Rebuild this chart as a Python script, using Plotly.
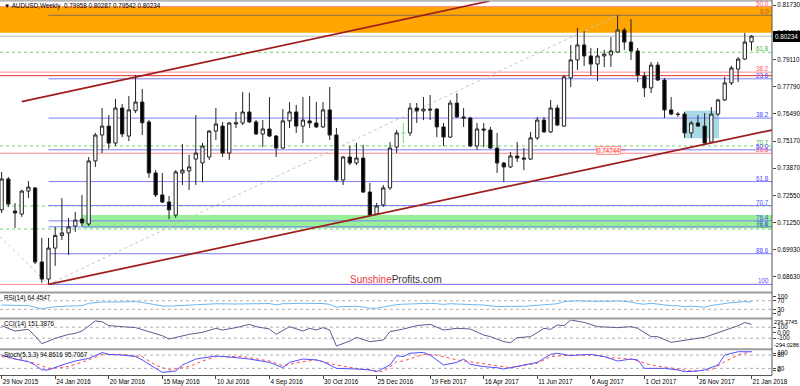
import plotly.graph_objects as go

# ---------------- data ----------------
tick_bars = [0, 8, 16, 24, 32, 40, 48, 56, 64, 72, 80, 88, 96, 104, 112]
tick_labels = ["29 Nov 2015", "24 Jan 2016", "20 Mar 2016", "15 May 2016", "10 Jul 2016",
               "4 Sep 2016", "30 Oct 2016", "25 Dec 2016", "19 Feb 2017", "16 Apr 2017",
               "11 Jun 2017", "6 Aug 2017", "1 Oct 2017", "26 Nov 2017", "21 Jan 2018"]

opens = [0.7186, 0.7335, 0.7181, 0.7166, 0.7277, 0.7292, 0.6935, 0.6853, 0.7002, 0.7063,
         0.7075, 0.7108, 0.7142, 0.7118, 0.7422, 0.7547, 0.7590, 0.7508, 0.7677, 0.7542,
         0.7664, 0.7706, 0.7610, 0.7364, 0.7258, 0.7224, 0.7161, 0.7364, 0.7374, 0.7431,
         0.7412, 0.7441, 0.7566, 0.7590, 0.7460, 0.7600, 0.7605, 0.7658, 0.7610, 0.7552,
         0.7576, 0.7542, 0.7484, 0.7615, 0.7658, 0.7590, 0.7615, 0.7605, 0.7586, 0.7668,
         0.7547, 0.7330, 0.7441, 0.7412, 0.7436, 0.7272, 0.7166, 0.7210, 0.7292, 0.7489,
         0.7557, 0.7557, 0.7677, 0.7663, 0.7672, 0.7672, 0.7586, 0.7537, 0.7701, 0.7634,
         0.7629, 0.7494, 0.7576, 0.7571, 0.7484, 0.7412, 0.7393, 0.7446, 0.7436, 0.7431,
         0.7533, 0.7619, 0.7562, 0.7677, 0.7590, 0.7822, 0.7909, 0.7981, 0.7928, 0.7889,
         0.7928, 0.7933, 0.7947, 0.8053, 0.7995, 0.7952, 0.7831, 0.7774, 0.7884, 0.7812,
         0.7668, 0.7648, 0.7648, 0.7557, 0.7605, 0.7590, 0.7513, 0.7648, 0.7716, 0.7798,
         0.7865, 0.7913, 0.79958]
highs = [0.7369, 0.7345, 0.7219, 0.7282, 0.7325, 0.7296, 0.7051, 0.7051, 0.7104, 0.7243,
         0.7147, 0.7176, 0.7258, 0.7441, 0.7557, 0.7677, 0.7643, 0.7721, 0.7696, 0.7735,
         0.7836, 0.7769, 0.7619, 0.7378, 0.7364, 0.7253, 0.7378, 0.7504, 0.7451, 0.7643,
         0.7508, 0.7571, 0.7677, 0.7610, 0.7610, 0.7658, 0.7754, 0.7751, 0.7619, 0.7619,
         0.7730, 0.7547, 0.7672, 0.7706, 0.7692, 0.7730, 0.7735, 0.7706, 0.7706, 0.7778,
         0.7581, 0.7446, 0.7494, 0.7508, 0.7499, 0.7316, 0.7219, 0.7306, 0.7513, 0.7571,
         0.7605, 0.7701, 0.7701, 0.7730, 0.7740, 0.7677, 0.7605, 0.7716, 0.7749, 0.7677,
         0.7634, 0.7605, 0.7605, 0.7586, 0.7557, 0.7417, 0.7465, 0.7513, 0.7484, 0.7562,
         0.7634, 0.7634, 0.7716, 0.7692, 0.7836, 0.7981, 0.8063, 0.8048, 0.7966, 0.7966,
         0.7957, 0.8019, 0.8124, 0.8063, 0.8106, 0.7966, 0.7851, 0.7899, 0.7899, 0.7822,
         0.7730, 0.7658, 0.7658, 0.7615, 0.7643, 0.7653, 0.7682, 0.7721, 0.7827, 0.7880,
         0.7923, 0.8039, 0.80287]
lows = [0.7171, 0.7200, 0.7099, 0.7152, 0.7243, 0.6925, 0.6834, 0.6827, 0.6916, 0.7041,
        0.6969, 0.7080, 0.7108, 0.7108, 0.7393, 0.7460, 0.7480, 0.7494, 0.7537, 0.7518,
        0.7653, 0.7547, 0.7340, 0.7248, 0.7219, 0.7142, 0.7147, 0.7306, 0.7282, 0.7306,
        0.7320, 0.7427, 0.7523, 0.7441, 0.7427, 0.7581, 0.7595, 0.7605, 0.7547, 0.7489,
        0.7537, 0.7441, 0.7480, 0.7581, 0.7557, 0.7508, 0.7581, 0.7581, 0.7581, 0.7523,
        0.7320, 0.7306, 0.7402, 0.7402, 0.7267, 0.7157, 0.7161, 0.7200, 0.7282, 0.7460,
        0.7508, 0.7542, 0.7605, 0.7619, 0.7619, 0.7537, 0.7494, 0.7533, 0.7629, 0.7586,
        0.7489, 0.7475, 0.7489, 0.7480, 0.7364, 0.7320, 0.7388, 0.7417, 0.7378, 0.7427,
        0.7523, 0.7557, 0.7557, 0.7590, 0.7586, 0.7778, 0.7860, 0.7880, 0.7836, 0.7807,
        0.7875, 0.7875, 0.7942, 0.7957, 0.7909, 0.7802, 0.7730, 0.7749, 0.7807, 0.7629,
        0.7643, 0.7634, 0.7533, 0.7533, 0.7586, 0.7504, 0.7508, 0.7639, 0.7711, 0.7788,
        0.7802, 0.7909, 0.79542]
closes = [0.7335, 0.7214, 0.7171, 0.7277, 0.7296, 0.6935, 0.6853, 0.7002, 0.7063, 0.7075,
          0.7104, 0.7137, 0.7123, 0.7422, 0.7547, 0.7590, 0.7508, 0.7677, 0.7552, 0.7668,
          0.7706, 0.7606, 0.7364, 0.7258, 0.7224, 0.7186, 0.7369, 0.7378, 0.7393, 0.7460,
          0.7494, 0.7566, 0.7600, 0.7460, 0.7605, 0.7606, 0.7658, 0.7610, 0.7552, 0.7576,
          0.7542, 0.7484, 0.7615, 0.7658, 0.7590, 0.7619, 0.7605, 0.7586, 0.7668, 0.7547,
          0.7330, 0.7441, 0.7412, 0.7436, 0.7272, 0.7161, 0.7205, 0.7292, 0.7484, 0.7557,
          0.7557, 0.7677, 0.7663, 0.7672, 0.7668, 0.7586, 0.7537, 0.7701, 0.7634, 0.7629,
          0.7494, 0.7576, 0.7571, 0.7484, 0.7412, 0.7393, 0.7446, 0.7436, 0.7431, 0.7533,
          0.7619, 0.7562, 0.7677, 0.7595, 0.7827, 0.7909, 0.7981, 0.7928, 0.7889, 0.7928,
          0.7937, 0.7952, 0.8053, 0.7995, 0.7952, 0.7836, 0.7774, 0.7884, 0.7812, 0.7668,
          0.7648, 0.7646, 0.7557, 0.7605, 0.7590, 0.7508, 0.7648, 0.7716, 0.7798, 0.7870,
          0.7913, 0.7995, 0.80234]
doji_bars = [60]          # drawn in light green on the original

price_ticks = [0.8173, 0.8041, 0.7911, 0.7779, 0.7649, 0.7517, 0.7387, 0.7255, 0.7125, 0.6993, 0.6863]

# Fibonacci retracements / levels
blue_fib = dict(start_bar=7, low=0.6827, high=0.8124,
                levels=[0.0, 23.6, 38.2, 50.0, 61.8, 70.7, 76.4, 78.6, 88.6, 100.0])
red_fib = dict(low=0.6827, high=0.9505, levels=[0.0, 23.6, 38.2, 50.0])
green_fib = dict(high=1.1081, low=0.6008, levels=[61.8, 70.7, 76.4, 78.6])
resist_zone = [0.8040, 0.8166]
support_zone = dict(start_bar=12, low=0.7098, high=0.7161)
blue_box = dict(b0=102, b1=107.15, low=0.7531, high=0.7664)
red_hline = 0.7833
marked_price = 0.74744
marked_bar = 90.6
upper_channel = [(3, 0.7708), (72.9, 0.8193)]
lower_channel = [(7, 0.6827), (115.06, 0.7571)]
grey_dotted = [[(-0.245, 0.7057), (7, 0.6827)], [(7, 0.6827), (92, 0.8124)]]

# indicators
rsi_bars = [0, 2, 4, 5, 6, 7, 8, 10, 12, 13, 14, 15, 17, 19, 20, 21, 22, 23, 24, 25, 26, 28, 30, 32, 35,
            37, 40, 41, 42, 45, 48, 49, 50, 51, 53, 54, 55, 56, 57, 58, 59, 60, 62, 64, 65, 66, 67, 68,
            70, 72, 74, 75, 76, 78, 80, 82, 83, 84, 85, 86, 87, 89, 91, 92, 93, 94, 95, 96, 97, 98, 99,
            100, 101, 102, 103, 104, 105, 106, 107, 108, 109, 110, 111, 112]
rsi_vals = [50, 49, 47, 40, 32, 38, 42, 45, 47, 58, 62, 64, 64, 65, 66, 62, 56, 50, 46, 45, 47, 50, 54, 56, 55,
            57, 57, 51, 56, 58, 57, 53, 40, 43, 44, 41, 35, 35, 40, 48, 52, 54, 57, 58, 56, 53, 56, 55,
            50, 50, 43, 42, 44, 44, 49, 53, 56, 66, 69, 70, 68, 67, 67, 70, 67, 64, 57, 54, 58, 54, 48,
            47, 47, 42, 45, 44, 40, 48, 53, 58, 61, 63, 66, 64.45]
cci_bars = [0, 2, 4, 5, 6, 8, 10, 11, 12, 13, 14, 15, 16, 18, 20, 22, 24, 25, 27, 28, 30, 32, 33, 35, 37,
            38, 40, 41, 43, 45, 46, 47, 48, 49, 50, 52, 53, 55, 57, 58, 60, 62, 64, 66, 68, 70, 72, 73,
            75, 76, 77, 79, 81, 82, 83, 84, 85, 87, 89, 92, 94, 95, 97, 98, 100, 102, 104, 105, 106,
            108, 110, 111, 112]
cci_vals = [128, 31, 60, -60, -200, -102, -30, -12, 31, 128, 213, 200, 128, 110, 92, 19, -54, -115, -54, -30,
            7, 79, 49, 92, 152, 110, 67, -30, 110, 31, 79, 49, 92, 49, -242, -151, -84, -163, -133, 19,
            67, 128, 152, 49, 79, 67, -42, -72, -163, -181, -90, -72, 79, 61, 140, 128, 231, 188, 110,
            92, 110, 79, -72, -72, -175, -133, -102, -84, -42, 31, 128, 185, 151.39]
cci_max_label, cci_min_label = "236.3745", "-294.0286"
stk_bars = [0, 2, 4, 5, 6, 7, 9, 11, 13, 15, 16, 18, 20, 21, 23, 24, 26, 27, 29, 31, 32, 35, 37, 40, 42,
            43, 45, 47, 48, 50, 52, 53, 55, 56, 58, 59, 60, 61, 63, 64, 66, 68, 69, 70, 72, 74, 75, 77,
            80, 81, 82, 83, 85, 86, 88, 90, 91, 92, 94, 95, 96, 98, 99, 101, 102, 104, 105, 107, 108,
            110, 112]
stk_vals = [80, 62, 50, 35, 13, 13, 35, 53, 65, 91, 83, 80, 73, 58, 20, 2, 8, 35, 62, 73, 76, 68, 62, 47, 23,
            47, 62, 58, 50, 20, 20, 17, 13, 5, 35, 77, 73, 88, 92, 80, 35, 47, 62, 38, 28, 23, 17, 28,
            47, 65, 83, 88, 77, 80, 83, 73, 62, 53, 62, 58, 20, 20, 20, 13, 5, 8, 13, 35, 80, 95, 94.86]
std_bars = [0, 3, 5, 7, 10, 13, 15, 18, 21, 23, 25, 28, 30, 32, 36, 40, 42, 45, 47, 50, 53, 55, 57, 59, 60,
            63, 65, 68, 70, 73, 76, 80, 82, 85, 88, 91, 94, 97, 100, 103, 106, 108, 110, 112]
std_vals = [73, 58, 43, 20, 28, 58, 83, 83, 73, 35, 13, 28, 53, 73, 73, 53, 32, 50, 58, 35, 20, 13, 5, 50, 53,
            83, 80, 58, 50, 35, 23, 43, 73, 80, 80, 68, 62, 35, 23, 8, 13, 50, 80, 95.71]

# ---------------- layout helpers ----------------
W, H, MB = 800, 386, 10
PH = H - MB
XD = 772 / W
XR = [-0.245, 115.06]
FONT = "Liberation Sans, Arial, sans-serif"
FS = 6.3


def py(px):
    return 1 - px / PH


bars = list(range(len(opens)))
main = [i for i in bars if i not in doji_bars]

fig = go.Figure()
fig.add_trace(go.Candlestick(
    x=[bars[i] for i in main], open=[opens[i] for i in main], high=[highs[i] for i in main],
    low=[lows[i] for i in main], close=[closes[i] for i in main],
    increasing=dict(fillcolor="white", line=dict(color="#222222", width=1)),
    decreasing=dict(fillcolor="black", line=dict(color="#222222", width=1)),
    whiskerwidth=0, hoverinfo="skip", xaxis="x", yaxis="y"))
for b in doji_bars:
    fig.add_trace(go.Scatter(x=[b, b, None, b - 0.35, b + 0.35],
                             y=[lows[b], highs[b], None, closes[b], closes[b]],
                             mode="lines", line=dict(color="#8fe08f", width=1.2),
                             hoverinfo="skip", xaxis="x", yaxis="y"))

# channel lines
for (p0, p1) in [upper_channel, lower_channel]:
    fig.add_trace(go.Scatter(x=[p0[0], p1[0]], y=[p0[1], p1[1]], mode="lines",
                             line=dict(color="#a01c1c", width=1.7), hoverinfo="skip",
                             xaxis="x", yaxis="y"))

# indicator traces
fig.add_trace(go.Scatter(x=rsi_bars, y=rsi_vals, mode="lines", line=dict(color="#6ab8f4", width=1),
                         hoverinfo="skip", xaxis="x2", yaxis="y2"))
fig.add_trace(go.Scatter(x=cci_bars, y=cci_vals, mode="lines", line=dict(color="#5c5c8e", width=1),
                         hoverinfo="skip", xaxis="x3", yaxis="y3"))
fig.add_trace(go.Scatter(x=std_bars, y=std_vals, mode="lines", line=dict(color="#ff4a4a", width=1, dash="dot"),
                         hoverinfo="skip", xaxis="x4", yaxis="y4"))
fig.add_trace(go.Scatter(x=stk_bars, y=stk_vals, mode="lines", line=dict(color="#5050ff", width=1),
                         hoverinfo="skip", xaxis="x4", yaxis="y4"))

shapes = []


def hline(y, x0, x1, color, width=1, dash="solid", yref="y", xref="x", layer="below"):
    shapes.append(dict(type="line", xref=xref, yref=yref, x0=x0, x1=x1, y0=y, y1=y,
                       line=dict(color=color, width=width, dash=dash), layer=layer))


# zones
shapes.append(dict(type="rect", xref="x", yref="y", x0=XR[0], x1=XR[1], y0=resist_zone[0], y1=resist_zone[1],
                   fillcolor="#ffa500", line=dict(width=0), layer="below"))
shapes.append(dict(type="rect", xref="x", yref="y", x0=support_zone["start_bar"], x1=XR[1],
                   y0=support_zone["low"], y1=support_zone["high"],
                   fillcolor="#98f098", line=dict(width=0), layer="below"))
shapes.append(dict(type="rect", xref="x", yref="y", x0=blue_box["b0"], x1=blue_box["b1"],
                   y0=blue_box["low"], y1=blue_box["high"],
                   fillcolor="#a8dbe6", line=dict(width=0), layer="below"))

annotations = []


def label(text, y, color, yref="y"):
    annotations.append(dict(text=text, x=XD, xref="paper", xanchor="right", xshift=-1,
                            y=y, yref=yref, yanchor="middle", yshift=3.5, showarrow=False,
                            font=dict(size=FS, color=color, family=FONT)))


# green fib (dotted); 76.4 label is hidden under the blue 70.7 label in the original
for lv in green_fib["levels"]:
    p = green_fib["high"] - lv / 100 * (green_fib["high"] - green_fib["low"])
    hline(p, XR[0], XR[1], "#6ad46a", 1, "dot")
    if lv != 76.4:
        label(f"{lv:.1f}", p, "#3cb83c")
# red fib
for lv in red_fib["levels"]:
    p = red_fib["low"] + lv / 100 * (red_fib["high"] - red_fib["low"])
    hline(p, XR[0], XR[1], "#ff8a8a", 1)
    if lv > 0:
        label(f"{lv:.1f}", p, "#ff5a5a")
hline(red_hline, XR[0], XR[1], "#e03030", 1)
# blue fib
for lv in blue_fib["levels"]:
    p = blue_fib["high"] - lv / 100 * (blue_fib["high"] - blue_fib["low"])
    col = "#8a6a50" if lv == 0 else "#7c7cff"
    hline(p, blue_fib["start_bar"], XR[1], col, 1)
    txt = "100" if lv == 100 else f"{lv:.1f}"
    label(txt, p, "#b0503a" if lv == 0 else "#4a4aff")
# bid line
hline(closes[-1], XR[0], XR[1], "#b8b8b8", 1)
# grey dotted fib baselines
for seg in grey_dotted:
    shapes.append(dict(type="line", xref="x", yref="y", x0=seg[0][0], y0=seg[0][1], x1=seg[1][0], y1=seg[1][1],
                       line=dict(color="#c4c4c4", width=1, dash="dot"), layer="below"))
# short red line next to marked price
hline(marked_price, marked_bar + 1.7, marked_bar + 2.6, "#ff6060", 1)

# indicator level lines
for v in [70, 30]:
    hline(v, XR[0], XR[1], "#b0b0b0", 1, "dot", yref="y2", xref="x2")
for v in [100, -100]:
    hline(v, XR[0], XR[1], "#b0b0b0", 1, "dot", yref="y3", xref="x3")
for v in [80, 20]:
    hline(v, XR[0], XR[1], "#b0b0b0", 1, "dot", yref="y4", xref="x4")

# pane separators / frame
for (a, b) in [(0.3, 1.5), (291.5, 293.5), (317.5, 319.5), (348.2, 350.2)]:
    shapes.append(dict(type="rect", xref="paper", yref="paper", x0=0, x1=XD, y0=py(b), y1=py(a),
                       fillcolor="#9c9c9c", line=dict(width=0), layer="above"))
shapes.append(dict(type="line", xref="paper", yref="paper", x0=XD, x1=XD, y0=py(375), y1=py(0),
                   line=dict(color="#555555", width=1), layer="above"))

# texts
annotations.append(dict(text="\u25bc AUDUSD,Weekly  0.79958 0.80287 0.79542 0.80234", x=2 / W, xref="paper",
                        xanchor="left", y=py(5.7), yref="paper", yanchor="middle", showarrow=False,
                        font=dict(size=FS, color="black", family=FONT)))
for txt, ypx in [("RSI(14) 64.4547", 298.3), ("CCI(14) 151.3876", 324.2),
                 ("Stoch(5,3,3) 94.8616 95.7067", 354.5)]:
    annotations.append(dict(text=txt, x=2 / W, xref="paper", xanchor="left", y=py(ypx), yref="paper",
                            yanchor="middle", showarrow=False, font=dict(size=FS, color="black", family=FONT)))
# CCI max / min labels at the pane edges (as on the original right scale)
for txt, ypx in [(cci_max_label, 321.7), (cci_min_label, 345.0)]:
    annotations.append(dict(text=txt, x=XD, xref="paper", xanchor="left", xshift=0, y=py(ypx), yref="paper",
                            yanchor="middle", showarrow=False, font=dict(size=5.6, color="black", family=FONT)))
annotations.append(dict(text='<span style="color:#e8383d">Sunshine</span><span style="color:#333333">Profits.com</span>',
                        x=396 / W, xref="paper", xanchor="center", y=py(279), yref="paper", yanchor="middle",
                        showarrow=False, font=dict(size=10, family=FONT)))
annotations.append(dict(text=f"{closes[-1]:.5f}", x=XD, xref="paper", xanchor="left", xshift=1,
                        y=closes[-1], yref="y", yanchor="middle", showarrow=False,
                        bgcolor="black", bordercolor="black", borderpad=1,
                        font=dict(size=FS, color="white", family=FONT)))
annotations.append(dict(text=f"{marked_price:.5f}", x=marked_bar, xref="x", xanchor="center",
                        y=marked_price, yref="y", yanchor="middle", showarrow=False,
                        bgcolor="#ffe8e8", bordercolor="#ff9a9a", borderwidth=1, borderpad=0,
                        font=dict(size=FS, color="#ff3030", family=FONT)))

axis_common = dict(showgrid=False, zeroline=False, automargin=False)
yax_common = dict(side="right", ticks="outside", ticklen=3, tickcolor="#444", showgrid=False, zeroline=False,
                  automargin=False, tickfont=dict(size=FS, family=FONT, color="black"))

fig.update_layout(
    width=W, height=H, margin=dict(l=0, r=0, t=0, b=MB), autosize=False,
    paper_bgcolor="white", plot_bgcolor="white", showlegend=False, hovermode=False,
    font=dict(family=FONT, size=FS, color="black"),
    xaxis=dict(domain=[0, XD], range=XR, showticklabels=False, rangeslider=dict(visible=False),
               anchor="y", **axis_common),
    xaxis2=dict(domain=[0, XD], matches="x", showticklabels=False, anchor="y2", **axis_common),
    xaxis3=dict(domain=[0, XD], matches="x", showticklabels=False, anchor="y3", **axis_common),
    xaxis4=dict(domain=[0, XD], matches="x", anchor="y4", tickvals=tick_bars, ticktext=tick_labels,
                ticks="outside", ticklen=3, tickcolor="#444", ticklabelposition="outside right",
                showline=True, linecolor="#555555", linewidth=1,
                tickfont=dict(size=FS, family=FONT, color="black"), **axis_common),
    yaxis=dict(domain=[py(291), py(1)], range=[0.67951, 0.81929], anchor="x",
               tickvals=price_ticks, ticktext=[f"{v:.5f}" for v in price_ticks], **yax_common),
    yaxis2=dict(domain=[py(317), py(293)], range=[-5.6, 106], anchor="x2",
                tickvals=[89, 70, 30, 11.6], ticktext=["100", "70", "30", "0"], **yax_common),
    yaxis3=dict(domain=[py(348), py(319.5)], range=[-278, 240], anchor="x3",
                tickvals=[100, 0, -100], ticktext=["100", "0.00", "-100"], **yax_common),
    yaxis4=dict(domain=[py(375), py(350)], range=[-9.9, 102.7], anchor="x4",
                tickvals=[88, 80, 20, 12.6], ticktext=["100", "80", "20", "0"], **yax_common),
    shapes=shapes, annotations=annotations,
)

POST = ("document.documentElement.style.margin='0px';"
        "document.documentElement.style.overflow='hidden';"
        "document.body.style.margin='0px';document.body.style.padding='0px';"
        "document.body.style.overflow='hidden';window.scrollTo(0,0);")

fig.write_html("out.html", config={"displayModeBar": False, "responsive": False}, post_script=POST)
